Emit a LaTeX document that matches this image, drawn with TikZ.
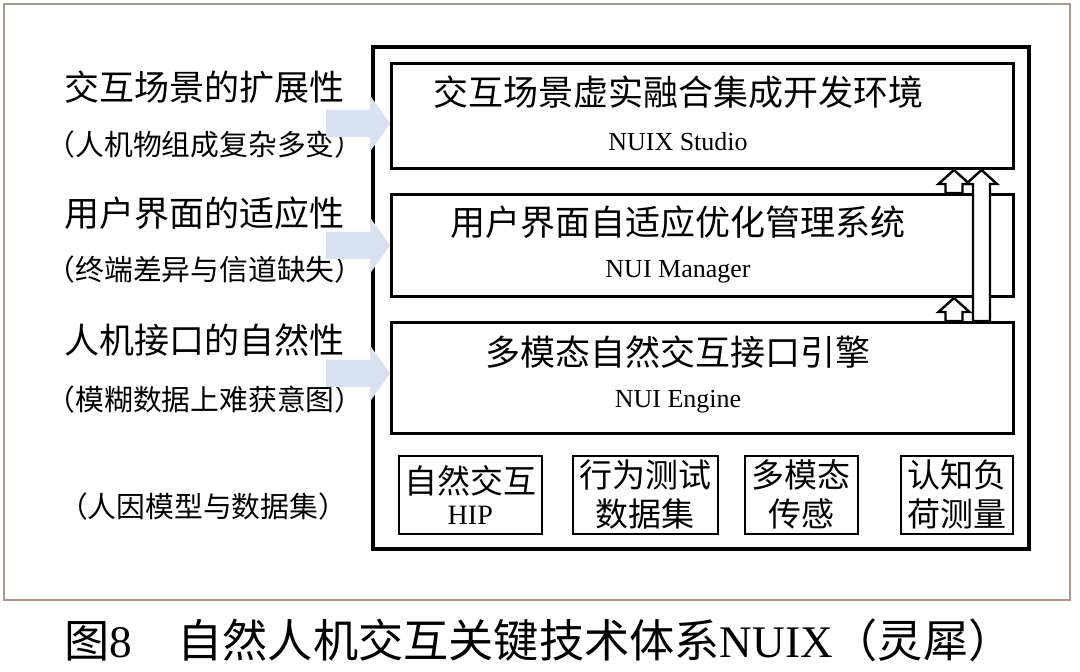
\documentclass[tikz,border=0pt]{standalone}
\usepackage{fontspec}
\setmainfont{Liberation Serif}
\newfontfamily\cjk{Noto Sans CJK SC}
\usetikzlibrary{calc}

\definecolor{framebrown}{RGB}{172,152,142}
\definecolor{flowblue}{RGB}{217,224,240}

% hollow block arrow pointing up, from #1 (bottom) to #2 (top)
\newcommand{\hollowup}[2]{%
	\draw[hollow] let \p1=(#1), \p2=(#2) in
		(\x1-4.25pt,\y1) -- (\x1-4.25pt,\y2-7pt) -- (\x1-7.75pt,\y2-7pt) -- (\x1,\y2)
		-- (\x1+7.75pt,\y2-7pt) -- (\x1+4.25pt,\y2-7pt) -- (\x1+4.25pt,\y1) -- cycle;}
% light block arrow into the west side of a layer
\newcommand{\flowin}[1]{%
	\fill[flowblue] let \p1=(#1) in
		(\x1-32pt,\y1+6.75pt) -- (\x1-10pt,\y1+6.75pt) -- (\x1-10pt,\y1+14pt) -- (\x1,\y1)
		-- (\x1-10pt,\y1-14pt) -- (\x1-10pt,\y1-6.75pt) -- (\x1-32pt,\y1-6.75pt) -- cycle;}

\begin{document}
\begin{tikzpicture}[x=0.5pt, y=-0.5pt,
	layer/.style={draw, line width=1.5pt, anchor=north west, minimum width=311pt},
	module/.style={draw, line width=0.8pt, anchor=north west, minimum height=39pt,
		align=center, inner sep=0pt, font=\cjk\fontsize{16.5}{19.5}\selectfont},
	lead/.style={font=\cjk\fontsize{17.5}{20}\selectfont},
	note/.style={font=\cjk\fontsize{14.4}{16}\selectfont},
	latin/.style={font=\rmfamily\fontsize{13}{15}\selectfont},
	hollow/.style={draw, line width=1.2pt, fill=white, line join=miter}]
	\useasboundingbox (0,0) rectangle (1080,672);
	
	\draw[framebrown, line width=0.8pt] (4,4) rectangle (1070,600);
	\draw[line width=2pt] (373,47) rectangle (1029,549);
	
	\node[layer, minimum height=52.5pt] (studio) at (390,62) {};
	\node[layer, minimum height=51pt] (manager) at (390,193) {};
	\node[layer, minimum height=55.5pt] (engine) at (390,321) {};
	
	\node[lead] (studioT) at (678,92) {交互场景虚实融合集成开发环境};
	\node[latin] (studioE) at (678,142) {NUIX Studio};
	\node[lead] (managerT) at (678,222) {用户界面自适应优化管理系统};
	\node[latin] (managerE) at (678,272) {NUI Manager};
	\node[lead] (engineT) at (678,352) {多模态自然交互接口引擎};
	\node[latin] (engineE) at (678,402) {NUI Engine};
	
	% left side: requirements
	\node[lead] (scene) at (204,87) {交互场景的扩展性};
	\node[note] (sceneN) at (205,145) {（人机物组成复杂多变）};
	\node[lead] (ui) at (204,213) {用户界面的适应性};
	\node[note] (uiN) at (205,270) {（终端差异与信道缺失）};
	\node[lead] (iface) at (204,340) {人机接口的自然性};
	\node[note] (ifaceN) at (205,400) {（模糊数据上难获意图）};
	\node[note] (human) at (203,507) {（人因模型与数据集）};
	
	\flowin{[yshift=-3.75pt]studio.west}
	\flowin{manager.west}
	\flowin{[yshift=2.25pt]engine.west}
	
	% bottom modules
	\foreach \name/\x/\w/\txt in {hip/398/71.5/{自然交互\\[-4pt]{\rmfamily\fontsize{14}{16}\selectfont HIP}},
			data/572/72.5/{行为测试\\数据集}, sense/744/56.5/{多模态\\传感}, load/900/56/{认知负\\荷测量}} {
		\node[module, minimum width=\w pt] (\name) at (\x,455) {\txt};
	}
	
	% arrows between layers
	\coordinate (xa) at (954,0);
	\coordinate (xb) at (981.5,0);
	\hollowup{engine.north -| xa}{manager.south -| xa}
	\hollowup{manager.north -| xa}{studio.south -| xa}
	\hollowup{engine.north -| xb}{studio.south -| xb}
	
	\node[font=\cjk\fontsize{22.6}{27}\selectfont] (caption) at (539,640)
		{图{\rmfamily 8}\quad 自然人机交互关键技术体系{\rmfamily NUIX}（灵犀）};
\end{tikzpicture}
\end{document}
